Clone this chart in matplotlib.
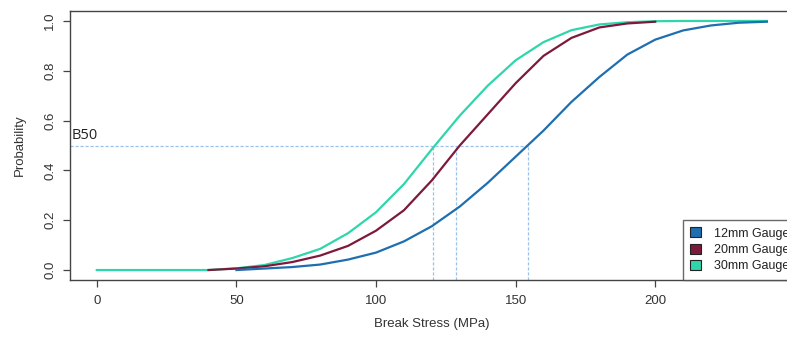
import matplotlib
matplotlib.use("Agg")
import matplotlib.pyplot as plt
from matplotlib.patches import Patch

plt.rcParams['font.family'] = ['Liberation Sans', 'DejaVu Sans']

# Data (Break stress in MPa, cumulative probability)
x_12 = [50, 60, 70, 80, 90, 100, 110, 120, 130, 140, 150, 160, 170, 180, 190, 200, 210, 220, 230, 240]
p_12 = [0.0, 0.006, 0.012, 0.022, 0.042, 0.07, 0.115, 0.176, 0.255, 0.35, 0.455, 0.56, 0.675, 0.775, 0.865, 0.925, 0.962, 0.982, 0.993, 0.997]

x_20 = [40, 50, 60, 70, 80, 90, 100, 110, 120, 130, 140, 150, 160, 170, 180, 190, 200]
p_20 = [0.0, 0.006, 0.015, 0.032, 0.058, 0.097, 0.158, 0.24, 0.36, 0.50, 0.625, 0.75, 0.86, 0.932, 0.974, 0.99, 0.997]

x_30 = [0, 10, 20, 30, 40, 50, 60, 70, 80, 90, 100, 110, 120, 130, 140, 150, 160, 170, 180, 190, 200, 210, 220, 230, 240]
p_30 = [0.0, 0.0, 0.0, 0.0, 0.0, 0.007, 0.02, 0.048, 0.085, 0.148, 0.232, 0.345, 0.485, 0.62, 0.74, 0.842, 0.915, 0.963, 0.986, 0.995, 0.999, 1.0, 1.0, 1.0, 1.0]

series_labels = ["12mm Gauge", "20mm Gauge", "30mm Gauge"]
b50 = [154.4, 128.7, 120.4]
b50_level = 0.5

x_ticks = [0, 50, 100, 150, 200]
y_ticks = [0.0, 0.2, 0.4, 0.6, 0.8, 1.0]
y_ticklabels = ["0.0", "0.2", "0.4", "0.6", "0.8", "1.0"]

c_blue = "#1f6eb0"
c_red = "#7d1a3b"
c_teal = "#30d6ab"
c_ref = "#9cc2ea"
c_axis = "#444444"

fig = plt.figure(figsize=(7.87, 3.43), dpi=100)
ax = fig.add_axes([70/787, 1 - 280/343, 723.7/787, 269/343])

xmin, xmax = -9.6, 249.6
ymin, ymax = -0.04, 1.04
ax.set_xlim(xmin, xmax)
ax.set_ylim(ymin, ymax)

# reference lines
ax.hlines(b50_level, xmin, max(b50), colors=c_ref, linestyles=(0, (2.5, 1.5)), lw=0.9, zorder=1)
ax.vlines(b50, ymin, b50_level, colors=c_ref, linestyles=(0, (2.5, 1.5)), lw=0.9, zorder=1)

ax.plot(x_30, p_30, color=c_teal, lw=1.6, zorder=2)
ax.plot(x_20, p_20, color=c_red, lw=1.6, zorder=3)
ax.plot(x_12, p_12, color=c_blue, lw=1.6, zorder=4)

ax.text(-9.0, 0.512, "B50", fontsize=10.5, family=['Open Sans', 'DejaVu Sans'], color="#222222",
        ha="left", va="bottom")

ax.set_xticks(x_ticks)
ax.set_xticklabels([str(v) for v in x_ticks])
ax.set_yticks(y_ticks)
ax.set_yticklabels(y_ticklabels, rotation=90, va="center")
ax.tick_params(axis="both", direction="out", length=5, width=0.9, color=c_axis,
               labelsize=9.5, labelcolor="#333333", pad=6)
ax.tick_params(axis="y", pad=5)
for s in ax.spines.values():
    s.set_color(c_axis)
    s.set_linewidth(1.0)

ax.set_xlabel("Break Stress (MPa)", fontsize=9.5, color="#333333", labelpad=8)
ax.set_ylabel("Probability", fontsize=9.5, color="#333333", labelpad=13)

handles = [Patch(facecolor=c, edgecolor="#222222", lw=0.8) for c in (c_blue, c_red, c_teal)]
leg = ax.legend(handles, series_labels, loc="lower left",
                bbox_to_anchor=((683 - 70) / 723.7, 0.0), borderaxespad=0,
                frameon=True, fancybox=False, fontsize=9.0, handlelength=0.85,
                handleheight=0.85, handletextpad=1.05, labelspacing=0.33,
                borderpad=0.6)
leg.get_frame().set_edgecolor(c_axis)
leg.get_frame().set_linewidth(1.0)
for t in leg.get_texts():
    t.set_color("#222222")

fig.savefig("out.png", dpi=100)
